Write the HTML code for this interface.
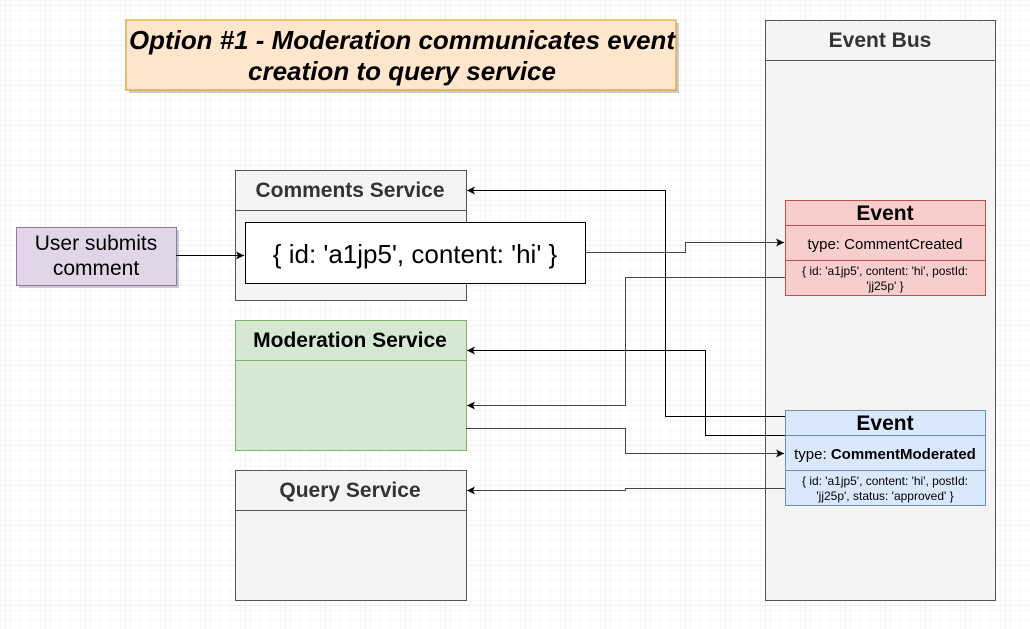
<!DOCTYPE html>
<html><head><meta charset="utf-8"><style>
html,body{margin:0;padding:0;background:#fff;}
svg{display:block;font-family:"Liberation Sans",Arial,sans-serif;}
</style></head><body>
<svg width="1030" height="629" viewBox="0 0 1030 629" xmlns="http://www.w3.org/2000/svg">
<defs>
<pattern id="minor" width="10" height="10" patternUnits="userSpaceOnUse" x="5" y="5">
<path d="M10 0H0V10" fill="none" stroke="#efefef" stroke-width="1"/>
</pattern>
<pattern id="major" width="40" height="40" patternUnits="userSpaceOnUse" x="5" y="5">
<rect width="40" height="40" fill="url(#minor)"/>
<path d="M40 0H0V40" fill="none" stroke="#e0e0e0" stroke-width="1"/>
</pattern>
<marker id="ar" markerWidth="10" markerHeight="10" refX="8" refY="4" orient="auto" markerUnits="userSpaceOnUse">
<path d="M0,0 L8,4 L0,8 L2,4 Z" fill="#000"/>
</marker>
</defs>
<rect width="1030" height="629" fill="url(#major)"/>

<!-- Title -->
<rect x="129" y="23" width="550" height="70" fill="#999" opacity="0.5"/>
<rect x="126" y="20" width="550" height="70" fill="#ffe6cc" stroke="#d79b00"/>
<text x="402" y="49" text-anchor="middle" font-size="26" font-weight="bold" font-style="italic" textLength="546" lengthAdjust="spacingAndGlyphs">Option #1 - Moderation communicates event</text>
<text x="402" y="80" text-anchor="middle" font-size="26" font-weight="bold" font-style="italic" textLength="308" lengthAdjust="spacingAndGlyphs">creation to query service</text>

<!-- Event Bus -->
<rect x="765.5" y="20.5" width="230" height="580" fill="#f5f4f4" stroke="#555"/>
<line x1="765" y1="60.5" x2="996" y2="60.5" stroke="#555"/>
<text x="880" y="47" text-anchor="middle" font-size="21" font-weight="bold" fill="#333">Event Bus</text>

<!-- User submits -->
<rect x="19" y="230" width="160" height="58" fill="#999" opacity="0.5"/>
<rect x="16.5" y="227.5" width="160" height="58" fill="#e1d5e7" stroke="#9673a6"/>
<text x="96" y="250" text-anchor="middle" font-size="21">User submits</text>
<text x="96" y="275" text-anchor="middle" font-size="21">comment</text>

<!-- Comments Service -->
<rect x="235.5" y="170.5" width="231" height="130" fill="#f5f4f4" stroke="#555"/>
<line x1="235" y1="210.5" x2="467" y2="210.5" stroke="#555"/>
<text x="350" y="197" text-anchor="middle" font-size="21" font-weight="bold" fill="#333">Comments Service</text>
<rect x="245.5" y="222.5" width="340" height="61" fill="#fff" stroke="#000"/>
<text x="415" y="263" text-anchor="middle" font-size="26">{ id: 'a1jp5', content: 'hi' }</text>

<!-- Moderation -->
<rect x="235.5" y="320.5" width="231" height="130" fill="#d5e8d4" stroke="#82b366"/>
<line x1="235" y1="360.5" x2="467" y2="360.5" stroke="#82b366"/>
<text x="350" y="347" text-anchor="middle" font-size="21" font-weight="bold">Moderation Service</text>

<!-- Query -->
<rect x="235.5" y="470.5" width="231" height="130" fill="#f5f4f4" stroke="#555"/>
<line x1="235" y1="510.5" x2="467" y2="510.5" stroke="#555"/>
<text x="350" y="497" text-anchor="middle" font-size="21" font-weight="bold" fill="#333">Query Service</text>

<!-- Event red -->
<rect x="785.5" y="200.5" width="200" height="95" fill="#f8cecc" stroke="#b85450"/>
<line x1="785" y1="225.5" x2="986" y2="225.5" stroke="#b85450"/>
<line x1="785" y1="260.5" x2="986" y2="260.5" stroke="#b85450"/>
<text x="885" y="220" text-anchor="middle" font-size="21" font-weight="bold">Event</text>
<text x="885" y="249" text-anchor="middle" font-size="15">type: CommentCreated</text>
<text x="885" y="275" text-anchor="middle" font-size="12" textLength="166" lengthAdjust="spacingAndGlyphs">{ id: 'a1jp5', content: 'hi', postId:</text>
<text x="885" y="290" text-anchor="middle" font-size="12">'jj25p' }</text>

<!-- Event blue -->
<rect x="785.5" y="410.5" width="200" height="95" fill="#dae8fc" stroke="#6c8ebf"/>
<line x1="785" y1="435.5" x2="986" y2="435.5" stroke="#6c8ebf"/>
<line x1="785" y1="470.5" x2="986" y2="470.5" stroke="#6c8ebf"/>
<text x="885" y="430" text-anchor="middle" font-size="21" font-weight="bold">Event</text>
<text x="885" y="459" text-anchor="middle" font-size="15">type: <tspan font-weight="bold">CommentModerated</tspan></text>
<text x="885" y="485" text-anchor="middle" font-size="12" textLength="166" lengthAdjust="spacingAndGlyphs">{ id: 'a1jp5', content: 'hi', postId:</text>
<text x="885" y="500" text-anchor="middle" font-size="12">'jj25p', status: 'approved' }</text>

<!-- connectors -->
<g fill="none" stroke="#000" stroke-width="1" marker-end="url(#ar)">
<path d="M176 255.5H244"/>
<path d="M586 252.5H685.5V242.5H784" stroke="#444"/>
<path d="M785 277.5H625.5V405.5H467" stroke="#444"/>
<path d="M785 416.5H665.5V190.5H467"/>
<path d="M785 435.5H705.5V350.5H467"/>
<path d="M466 428.5H625.5V453.5H784" stroke="#444"/>
<path d="M785 488.5H625.5V490.5H467" stroke="#444"/>
</g>
</svg>
</body></html>
